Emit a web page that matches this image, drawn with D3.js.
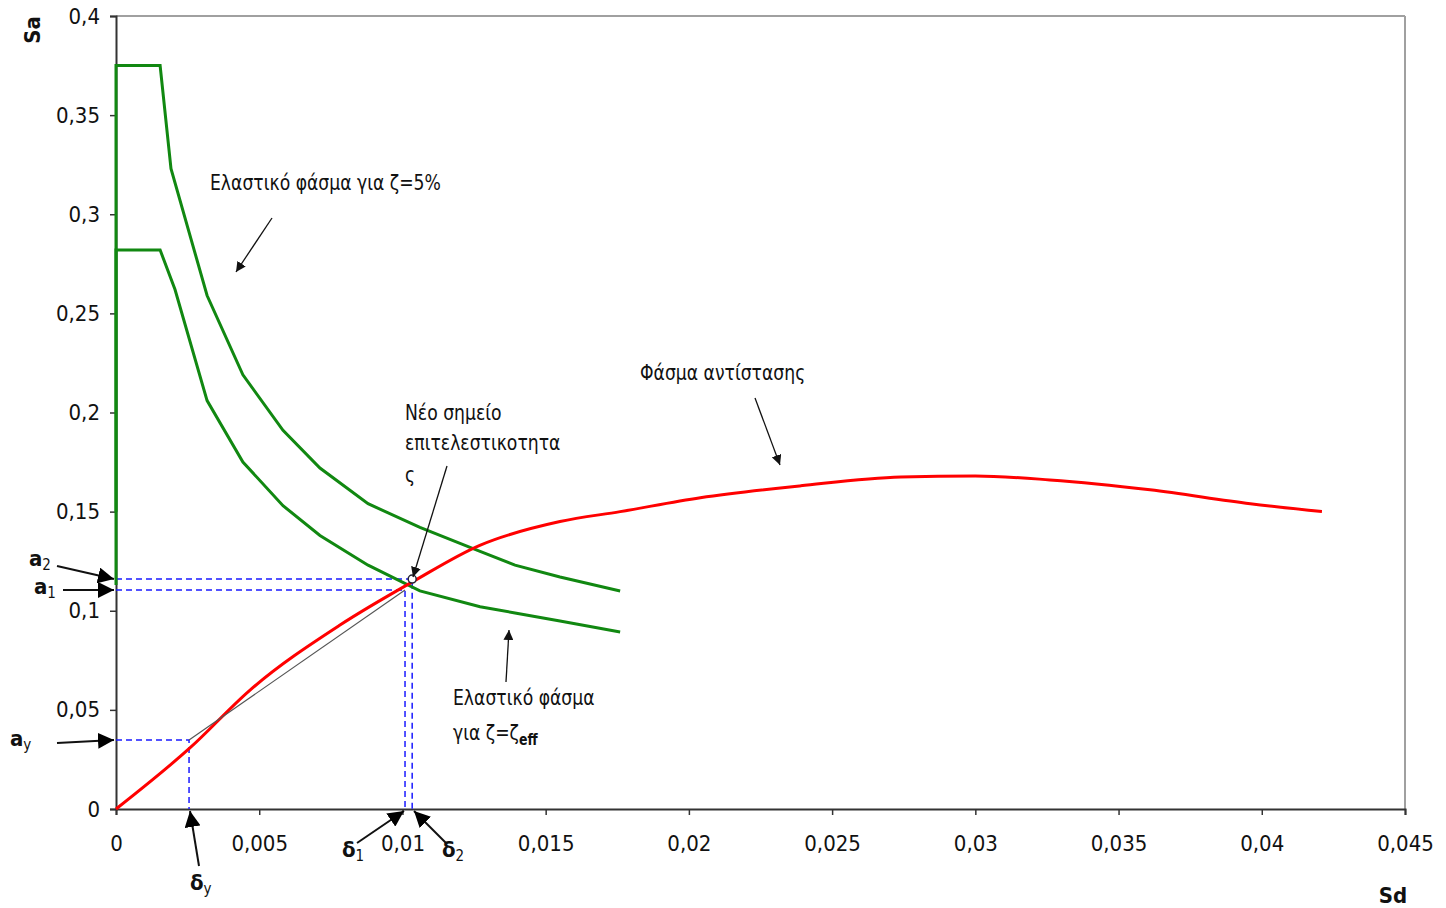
<!DOCTYPE html>
<html>
<head>
<meta charset="utf-8">
<script src="https://cdn.jsdelivr.net/npm/d3@7"></script>
<style>
body { margin: 0; background: #fff; }
text { font-family: "Liberation Sans Narrow", "DejaVu Sans Condensed", "Liberation Sans", sans-serif; fill: #111; }
</style>
</head>
<body>
<svg id="chart" width="1446" height="908"></svg>
<script>
// elastic spectrum zeta=5%
var upperSd = [0, 0, 0.00154, 0.00192, 0.00318, 0.00443, 0.00583, 0.00712, 0.0088, 0.01061, 0.01271, 0.01393, 0.0155, 0.0176];
var upperSa = [0.15, 0.375, 0.375, 0.323, 0.259, 0.219, 0.191, 0.172, 0.154, 0.142, 0.130, 0.123, 0.117, 0.110];
// elastic spectrum zeta=zeta_eff
var lowerSd = [0, 0, 0.00154, 0.00206, 0.00318, 0.00443, 0.00583, 0.00712, 0.0088, 0.01061, 0.01271, 0.01393, 0.0155, 0.0176];
var lowerSa = [0.113, 0.282, 0.282, 0.262, 0.206, 0.175, 0.153, 0.138, 0.123, 0.110, 0.102, 0.0989, 0.0948, 0.0893];
// capacity spectrum
var redSd = [0, 0.00258, 0.00468, 0.00782, 0.01034, 0.0127, 0.0155, 0.0176, 0.0204, 0.0239, 0.0274, 0.030, 0.0326, 0.0361, 0.0396, 0.0421];
var redSa = [0, 0.0308, 0.060, 0.0928, 0.1145, 0.133, 0.145, 0.150, 0.157, 0.163, 0.1675, 0.168, 0.166, 0.161, 0.154, 0.150];

var xTicks = [0, 0.005, 0.01, 0.015, 0.02, 0.025, 0.03, 0.035, 0.04, 0.045];
var yTicks = [0, 0.05, 0.1, 0.15, 0.2, 0.25, 0.3, 0.35, 0.4];

// yield and performance points
var dy = 0.00255, ay = 0.0348;
var d1 = 0.01009, a1 = 0.1105;
var d2 = 0.01034, a2 = 0.116;

var svg = d3.select("#chart");
var x = d3.scaleLinear().domain([0, 0.045]).range([116, 1405]);
var y = d3.scaleLinear().domain([0, 0.4]).range([809, 16]);

function fmt(v)
{
	return d3.format("~g")(+v.toFixed(3)).replace(".", ",");
}

var defs = svg.append("defs");
defs.append("marker")
	.attr("id", "arr")
	.attr("viewBox", "0 0 10 10")
	.attr("refX", 10).attr("refY", 5)
	.attr("markerWidth", 10).attr("markerHeight", 10)
	.attr("markerUnits", "userSpaceOnUse")
	.attr("orient", "auto")
	.append("path").attr("d", "M0,0 L10,5 L0,10 z").attr("fill", "#111");
defs.append("marker")
	.attr("id", "arrBig")
	.attr("viewBox", "0 0 10 10")
	.attr("refX", 10).attr("refY", 5)
	.attr("markerWidth", 16).attr("markerHeight", 16)
	.attr("markerUnits", "userSpaceOnUse")
	.attr("orient", "auto")
	.append("path").attr("d", "M0,0 L10,5 L0,10 z").attr("fill", "#000");

// frame
svg.append("line").attr("x1", 116).attr("x2", 1405).attr("y1", 16).attr("y2", 16)
	.attr("stroke", "#a0a0a0").attr("stroke-width", 2);
svg.append("line").attr("x1", 1405).attr("x2", 1405).attr("y1", 16).attr("y2", 809)
	.attr("stroke", "#a0a0a0").attr("stroke-width", 2);

var xAxis = svg.append("g").attr("transform", "translate(0,809)")
	.call(d3.axisBottom(x).tickValues(xTicks).tickSize(6).tickPadding(20).tickFormat(fmt));
var yAxis = svg.append("g").attr("transform", "translate(116,0)")
	.call(d3.axisLeft(y).tickValues(yTicks).tickSize(6).tickPadding(10).tickFormat(fmt));
[xAxis, yAxis].forEach(function(g)
{
	g.select(".domain").attr("stroke", "#333").attr("stroke-width", 2);
	g.selectAll(".tick line").attr("stroke", "#333").attr("stroke-width", 1.5);
	g.selectAll(".tick text").style("font-size", "22px").attr("fill", "#222")
		.style("font-family", "'Liberation Sans Narrow', 'DejaVu Sans Condensed', sans-serif");
});

// blue dashed guides
var guides = [[ay, dy], [a2, d2], [a1, d1]];
guides.forEach(function(g)
{
	svg.append("path")
		.attr("d", "M" + x(0) + "," + y(g[0]) + "H" + x(g[1]) + "V" + y(0))
		.attr("fill", "none").attr("stroke", "#1a1aff").attr("stroke-width", 1.5)
		.attr("stroke-dasharray", "6,4");
});

var line = d3.line().x(function(d) { return x(d[0]); }).y(function(d) { return y(d[1]); });

svg.append("path")
	.datum(d3.zip(upperSd, upperSa))
	.attr("d", line).attr("fill", "none").attr("stroke", "#118811").attr("stroke-width", 3);
svg.append("path")
	.datum(d3.zip(lowerSd, lowerSa))
	.attr("d", line).attr("fill", "none").attr("stroke", "#118811").attr("stroke-width", 3);

svg.append("path")
	.datum(d3.zip(redSd, redSa))
	.attr("d", line.curve(d3.curveMonotoneX)).attr("fill", "none").attr("stroke", "#ff0000").attr("stroke-width", 3);

// bilinear gray line
svg.append("line")
	.attr("x1", x(dy)).attr("y1", y(ay)).attr("x2", x(d1)).attr("y2", y(a1))
	.attr("stroke", "#555").attr("stroke-width", 1.2);

svg.append("circle").attr("cx", x(d2)).attr("cy", y(a2)).attr("r", 4)
	.attr("fill", "#fff").attr("stroke", "#223").attr("stroke-width", 1.5);

// annotations
function arrow(x1, y1, x2, y2, big)
{
	svg.append("line").attr("x1", x1).attr("y1", y1).attr("x2", x2).attr("y2", y2)
		.attr("stroke", "#111").attr("stroke-width", big ? 2 : 1.3)
		.attr("marker-end", big ? "url(#arrBig)" : "url(#arr)");
}
// narrow the wide fallback font so it matches the condensed original
function label(tx, ty, str, size)
{
	return svg.append("text").attr("transform", "translate(" + tx + "," + ty + ") scale(0.87,1)")
		.style("font-size", (size || 22) + "px").text(str);
}

label(210, 190, "Ελαστικό φάσμα για ζ=5%");
arrow(272, 218, 236, 272);

label(640, 380, "Φάσμα αντίστασης");
arrow(755, 398, 780, 465);

label(405, 420, "Νέο σημείο");
label(405, 450, "επιτελεστικοτητα");
label(405, 482, "ς");
arrow(447, 466, 413, 577);

label(453, 705, "Ελαστικό φάσμα");
var t = label(453, 740, "για ζ=ζ");
t.append("tspan").attr("dy", 5).style("font-size", "16px").style("font-weight", "bold").text("eff");
arrow(506, 682, 509, 630);

// left labels
function sym(tx, ty, main, sub)
{
	var s = svg.append("text").attr("x", tx).attr("y", ty)
		.style("font-size", "22px").style("font-weight", "bold").text(main);
	s.append("tspan").attr("dy", 4).style("font-size", "15px").style("font-weight", "normal").text(sub);
}
sym(29, 566, "a", "2");
arrow(57, 566, 114, 579, true);
sym(34, 594, "a", "1");
arrow(63, 590, 114, 590, true);
sym(10, 746, "a", "y");
arrow(57, 743, 114, 740, true);
sym(190, 890, "δ", "y");
arrow(199, 866, 190, 811, true);
sym(342, 857, "δ", "1");
arrow(357, 843, 404, 811, true);
sym(442, 857, "δ", "2");
arrow(446, 843, 414, 811, true);

// axis titles
svg.append("text").attr("transform", "translate(40,30) rotate(-90)")
	.attr("text-anchor", "middle").style("font-size", "22px").style("font-weight", "bold").text("Sa");
svg.append("text").attr("x", 1393).attr("y", 903).attr("text-anchor", "middle")
	.style("font-size", "22px").style("font-weight", "bold").text("Sd");
</script>
</body>
</html>
